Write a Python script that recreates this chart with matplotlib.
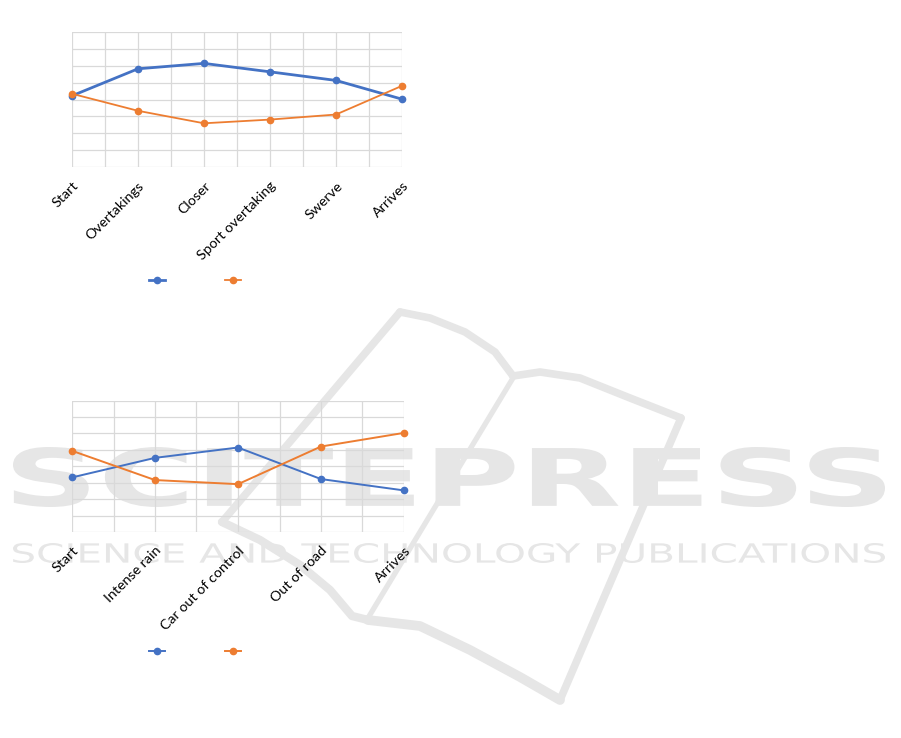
import numpy as np
import matplotlib
matplotlib.use('Agg')
import matplotlib.pyplot as plt
from matplotlib.lines import Line2D
from matplotlib.patches import PathPatch
from matplotlib.textpath import TextPath
from matplotlib.font_manager import FontProperties
from matplotlib.transforms import Affine2D, ScaledTranslation

# data (no value axis shown, grid runs 0..8)
stages1 = ['Start', 'Overtakings', 'Closer', 'Sport overtaking', 'Swerve', 'Arrives']
blue1 = [4.22, 5.82, 6.14, 5.64, 5.13, 4.02]
orange1 = [4.34, 3.33, 2.59, 2.81, 3.11, 4.81]

stages2 = ['Start', 'Intense rain', 'Car out of control', 'Out of road', 'Arrives']
blue2 = [3.32, 4.51, 5.14, 3.22, 2.53]
orange2 = [4.94, 3.16, 2.91, 5.20, 6.03]

BLUE = '#4472C4'
ORANGE = '#ED7D31'
GRID = '#d9d9d9'
WM = '#e6e6e6'

W, H = 901, 738
fig = plt.figure(figsize=(W / 100, H / 100), dpi=100)
plt.rcParams['font.family'] = ['Lato', 'DejaVu Sans']


def px(x, y):
    # pixel coords (top-left origin) -> figure fraction
    return np.asarray(x) / W, 1 - np.asarray(y) / H


# ---- watermark (drawn behind the charts) ----
def stamp(txt, x0, y0, x1, y1, weight):
    tp = TextPath((0, 0), txt, size=1, prop=FontProperties(family='DejaVu Sans', weight=weight))
    ext = tp.get_extents()
    tr = (Affine2D().translate(-ext.x0, -ext.y0)
          .scale((x1 - x0) / ext.width, (y1 - y0) / ext.height)
          .translate(x0, H - y1)
          .scale(1 / W, 1 / H)) + fig.transFigure
    fig.add_artist(PathPatch(tp, transform=tr, facecolor=WM, edgecolor='none', zorder=-5))


def stroke(xs, ys, lw):
    fx, fy = px(xs, ys)
    fig.add_artist(Line2D(fx, fy, transform=fig.transFigure, color=WM, lw=lw,
                          solid_capstyle='round', solid_joinstyle='round', zorder=-6))


stroke([400, 430, 465, 495, 513], [312, 318, 332, 352, 376], 5.5)
stroke([513, 540, 580, 630, 681], [376, 372, 378, 398, 418], 5.5)
stroke([681, 620, 560], [418, 560, 700], 5.5)
stroke([560, 520, 470, 420, 368], [700, 677, 650, 626, 620], 7)
stroke([400, 222], [312, 522], 5.5)
stroke([222, 260, 300, 330, 352, 368], [522, 540, 565, 590, 616, 620], 6)
stroke([513, 368], [378, 618], 3.8)
stamp('SCITEPRESS', 13, 447, 885, 507, 'bold')
stamp('SCIENCE AND TECHNOLOGY PUBLICATIONS', 13, 543, 885, 563, 'normal')


def chart(rect, stages, blue, orange, lw_blue, lw_orange, leg_y):
    ax = fig.add_axes(rect)
    ax.set_facecolor('none')
    n = len(stages)
    x = np.arange(n)
    ax.plot(x, blue, color=BLUE, lw=lw_blue, marker='o', ms=4.5, clip_on=False, zorder=3)
    ax.plot(x, orange, color=ORANGE, lw=lw_orange, marker='o', ms=4.5, clip_on=False, zorder=3)

    ax.set_xlim(0, n - 1)
    ax.set_ylim(0, 8)
    ax.set_xticks(x)
    ax.set_xticks(np.arange(0.5, n - 1, 1), minor=True)
    ax.set_yticks(range(9))
    ax.set_yticklabels([])
    ax.set_xticklabels(stages, rotation=45, ha='right', rotation_mode='anchor', fontsize=10.3)
    shift = ScaledTranslation(-4 / 100, 0, fig.dpi_scale_trans)
    for lab in ax.get_xticklabels():
        lab.set_transform(lab.get_transform() + shift)
    ax.tick_params(which='both', length=0)
    ax.tick_params(axis='x', pad=9)
    ax.grid(True, which='major', color=GRID, lw=0.9)
    ax.grid(True, which='minor', axis='x', color=GRID, lw=0.9)
    for s in ax.spines.values():
        s.set_visible(False)
    ax.set_axisbelow(True)

    h1 = Line2D([], [], color=BLUE, lw=lw_blue, marker='o', ms=4.5)
    h2 = Line2D([], [], color=ORANGE, lw=lw_orange, marker='o', ms=4.5)
    fig.legend([h1, h2], ['', ''], ncol=2, loc='center', frameon=False,
               bbox_to_anchor=(195 / W, 1 - leg_y / H), fontsize=10,
               handlelength=1.15, handletextpad=0, columnspacing=4.3)
    return ax


chart([72 / W, 1 - 167 / H, 330 / W, 135 / H], stages1, blue1, orange1, 2.0, 1.3, 281)
chart([72 / W, 1 - 532 / H, 332 / W, 131.5 / H], stages2, blue2, orange2, 1.4, 1.4, 652)

fig.savefig('out.png', dpi=100)
